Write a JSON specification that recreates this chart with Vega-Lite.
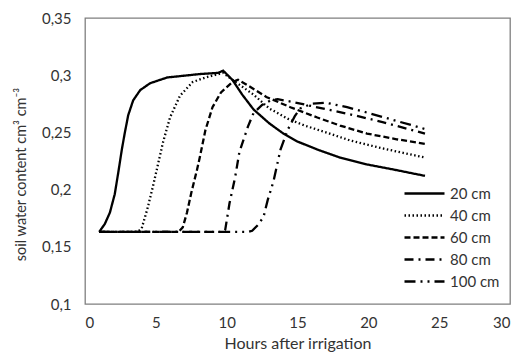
{
  "$schema": "https://vega.github.io/schema/vega-lite/v6.json",
  "autosize": {"type": "none"},
  "width": 425,
  "height": 286,
  "padding": {"left": 85, "top": 18, "right": 10, "bottom": 49},
  "background": "white",
  "config": {
    "font": "Lato",
    "view": {"stroke": "#7f7f7f", "strokeWidth": 1.3},
    "axis": {"grid": false, "ticks": false, "domain": false, "labelFont": "Lato", "titleFont": "Lato", "labelFontSize": 15, "titleFontSize": 16, "titleFontWeight": "normal", "labelColor": "#333", "titleColor": "#333"}
  },
  "data": {"values": [
    {"t":1,"v":0.163,"d":"20 cm"},{"t":1.4,"v":0.17,"d":"20 cm"},{"t":1.76,"v":0.18,"d":"20 cm"},{"t":2.1,"v":0.196,"d":"20 cm"},{"t":2.35,"v":0.215,"d":"20 cm"},{"t":2.6,"v":0.235,"d":"20 cm"},{"t":2.8,"v":0.249,"d":"20 cm"},{"t":3.05,"v":0.265,"d":"20 cm"},{"t":3.4,"v":0.278,"d":"20 cm"},{"t":3.9,"v":0.287,"d":"20 cm"},{"t":4.6,"v":0.293,"d":"20 cm"},{"t":5.8,"v":0.298,"d":"20 cm"},{"t":8.1,"v":0.301,"d":"20 cm"},{"t":9.4,"v":0.302,"d":"20 cm"},{"t":9.75,"v":0.304,"d":"20 cm"},{"t":10.4,"v":0.296,"d":"20 cm"},{"t":11.1,"v":0.283,"d":"20 cm"},{"t":11.9,"v":0.27,"d":"20 cm"},{"t":13,"v":0.258,"d":"20 cm"},{"t":14,"v":0.249,"d":"20 cm"},{"t":15,"v":0.242,"d":"20 cm"},{"t":16.4,"v":0.235,"d":"20 cm"},{"t":18,"v":0.228,"d":"20 cm"},{"t":19.9,"v":0.222,"d":"20 cm"},{"t":22,"v":0.217,"d":"20 cm"},{"t":24,"v":0.212,"d":"20 cm"},
    {"t":1,"v":0.163,"d":"40 cm"},{"t":3.7,"v":0.163,"d":"40 cm"},{"t":4.0,"v":0.166,"d":"40 cm"},{"t":4.4,"v":0.183,"d":"40 cm"},{"t":4.8,"v":0.203,"d":"40 cm"},{"t":5.15,"v":0.222,"d":"40 cm"},{"t":5.5,"v":0.241,"d":"40 cm"},{"t":6.0,"v":0.263,"d":"40 cm"},{"t":6.7,"v":0.282,"d":"40 cm"},{"t":7.6,"v":0.294,"d":"40 cm"},{"t":8.5,"v":0.298,"d":"40 cm"},{"t":9.75,"v":0.302,"d":"40 cm"},{"t":10.4,"v":0.296,"d":"40 cm"},{"t":11.9,"v":0.283,"d":"40 cm"},{"t":13,"v":0.271,"d":"40 cm"},{"t":14.3,"v":0.262,"d":"40 cm"},{"t":15.5,"v":0.256,"d":"40 cm"},{"t":17,"v":0.25,"d":"40 cm"},{"t":18.7,"v":0.243,"d":"40 cm"},{"t":21,"v":0.236,"d":"40 cm"},{"t":24,"v":0.228,"d":"40 cm"},
    {"t":1,"v":0.163,"d":"60 cm"},{"t":6.6,"v":0.163,"d":"60 cm"},{"t":6.9,"v":0.167,"d":"60 cm"},{"t":7.2,"v":0.18,"d":"60 cm"},{"t":7.5,"v":0.197,"d":"60 cm"},{"t":7.9,"v":0.217,"d":"60 cm"},{"t":8.1,"v":0.228,"d":"60 cm"},{"t":8.5,"v":0.252,"d":"60 cm"},{"t":9.0,"v":0.272,"d":"60 cm"},{"t":9.6,"v":0.285,"d":"60 cm"},{"t":10.4,"v":0.294,"d":"60 cm"},{"t":10.8,"v":0.296,"d":"60 cm"},{"t":11.5,"v":0.291,"d":"60 cm"},{"t":12.8,"v":0.281,"d":"60 cm"},{"t":14.5,"v":0.272,"d":"60 cm"},{"t":16.4,"v":0.263,"d":"60 cm"},{"t":18,"v":0.256,"d":"60 cm"},{"t":19.9,"v":0.249,"d":"60 cm"},{"t":22,"v":0.244,"d":"60 cm"},{"t":24,"v":0.24,"d":"60 cm"},
    {"t":1,"v":0.163,"d":"80 cm"},{"t":9.7,"v":0.163,"d":"80 cm"},{"t":9.9,"v":0.165,"d":"80 cm"},{"t":10.2,"v":0.188,"d":"80 cm"},{"t":10.6,"v":0.211,"d":"80 cm"},{"t":10.9,"v":0.233,"d":"80 cm"},{"t":11.5,"v":0.255,"d":"80 cm"},{"t":11.9,"v":0.267,"d":"80 cm"},{"t":12.5,"v":0.274,"d":"80 cm"},{"t":13.1,"v":0.278,"d":"80 cm"},{"t":13.6,"v":0.279,"d":"80 cm"},{"t":14.5,"v":0.277,"d":"80 cm"},{"t":16,"v":0.273,"d":"80 cm"},{"t":17.5,"v":0.269,"d":"80 cm"},{"t":19,"v":0.265,"d":"80 cm"},{"t":21,"v":0.259,"d":"80 cm"},{"t":22.5,"v":0.254,"d":"80 cm"},{"t":24,"v":0.249,"d":"80 cm"},
    {"t":1,"v":0.163,"d":"100 cm"},{"t":11.5,"v":0.163,"d":"100 cm"},{"t":11.8,"v":0.164,"d":"100 cm"},{"t":12.2,"v":0.169,"d":"100 cm"},{"t":12.6,"v":0.176,"d":"100 cm"},{"t":12.9,"v":0.191,"d":"100 cm"},{"t":13.3,"v":0.207,"d":"100 cm"},{"t":13.8,"v":0.235,"d":"100 cm"},{"t":14.3,"v":0.252,"d":"100 cm"},{"t":14.8,"v":0.264,"d":"100 cm"},{"t":15.2,"v":0.271,"d":"100 cm"},{"t":16,"v":0.275,"d":"100 cm"},{"t":17,"v":0.276,"d":"100 cm"},{"t":18.5,"v":0.272,"d":"100 cm"},{"t":20,"v":0.267,"d":"100 cm"},{"t":22,"v":0.26,"d":"100 cm"},{"t":24,"v":0.253,"d":"100 cm"}
  ]},
  "mark": {"type": "line", "color": "black", "strokeWidth": 2.3},
  "encoding": {
    "x": {"field": "t", "type": "quantitative", "scale": {"domain": [0, 30], "nice": false},
      "axis": {"values": [0,5,10,15,20,25,30], "title": "Hours after irrigation", "labelPadding": 11, "titlePadding": 5}},
    "y": {"field": "v", "type": "quantitative", "scale": {"domain": [0.1, 0.35], "nice": false, "zero": false},
      "axis": {"values": [0.1,0.15,0.2,0.25,0.3,0.35], "labelExpr": "replace(format(datum.value, '.2~f'), '.', ',')", "title": "soil water content  cm³ cm⁻³", "titleFontSize": 14.5, "labelPadding": 14, "titlePadding": 13, "titleY": 156}},
    "strokeDash": {"field": "d", "type": "nominal",
      "scale": {"domain": ["20 cm","40 cm","60 cm","80 cm","100 cm"], "range": [[1,0],[1.5,2.5],[6,3],[9,5,2,5],[11,5,2,5,2,5]]},
      "legend": {"title": null, "orient": "none", "legendX": 318, "legendY": 168, "symbolType": "stroke", "symbolSize": 1600, "clipHeight": 15, "symbolStrokeWidth": 2.5, "symbolStrokeColor": "black", "labelFontSize": 15, "labelColor": "#333", "labelFont": "Lato", "rowPadding": 6, "labelOffset": 4}},
    "order": {"field": "t", "type": "quantitative"}
  }
}
